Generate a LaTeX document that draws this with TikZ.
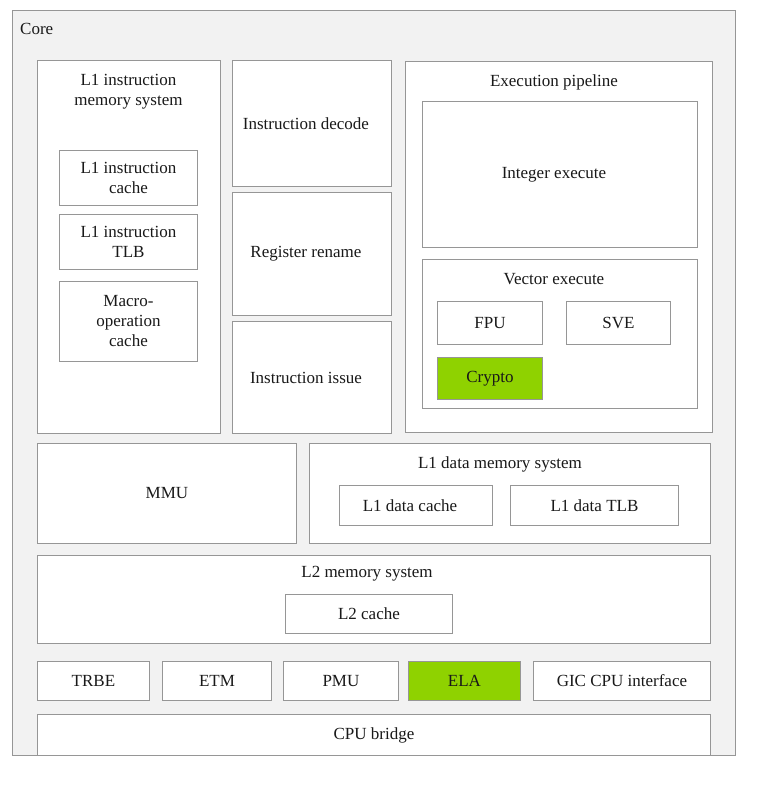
\documentclass[tikz,border=0pt]{standalone}
\usepackage{fontspec}
\setmainfont{Liberation Serif}
\usepackage{xcolor}
\usepackage{tikz}

\definecolor{coregray}{RGB}{242,242,242}
\definecolor{linegray}{RGB}{150,150,150}
\definecolor{elagreen}{RGB}{143,210,0}

\tikzset{
  blk/.style={draw=linegray, fill=white, line width=0.9pt, anchor=north west,
    inner sep=0pt, align=center, text=black!90,
    font=\fontsize{17}{20}\selectfont},
  grn/.style={blk, fill=elagreen},
  ttl/.style={inner sep=0pt, align=center, text=black!90,
    font=\fontsize{17}{20}\selectfont}
}
% texto un poco a la izquierda del centro
\def\iL{\hspace*{12pt}}

\begin{document}
\begin{tikzpicture}[x=1pt,y=-1pt]
\useasboundingbox (0,0) rectangle (758,785);

%% la caja grande: Core %%%%%%%%%%%%%%%%%%%%%%%
\node[blk, fill=coregray, minimum width=723pt, minimum height=745pt] (core) at (12,10) {};
\node[ttl, anchor=west] (corettl) at (20,29) {Core};

%% L1 instruction memory system %%%%%%%%%%%%%%%
\node[blk, minimum width=183pt, minimum height=373pt] (l1i) at (37,60) {};
\node[ttl] (l1ittl) at (128.5,92) {L1 instruction\\memory system};
\node[blk, minimum width=138pt, minimum height=55pt] (l1icache) at (59,150) {L1 instruction\\cache};
\node[blk, minimum width=138pt, minimum height=55pt] (l1itlb) at (59,214) {L1 instruction\\TLB};
\node[blk, minimum width=138pt, minimum height=80pt] (mopcache) at (59,281) {Macro-\\operation\\cache};

%% decode / rename / issue %%%%%%%%%%%%%%%%%%%%
\node[blk, minimum width=159pt, minimum height=126pt] (decode) at (232,60) {Instruction decode\iL};
\node[blk, minimum width=159pt, minimum height=123pt] (rename) at (232,192) {Register rename\iL};
\node[blk, minimum width=159pt, minimum height=112pt] (issue) at (232,321) {Instruction issue\iL};

%% Execution pipeline %%%%%%%%%%%%%%%%%%%%%%%%%
\node[blk, minimum width=307pt, minimum height=371pt] (exe) at (405,61) {};
\node[ttl] (exettl) at (554,82) {Execution pipeline};
\node[blk, minimum width=275pt, minimum height=146pt] (intexe) at (422,101) {Integer execute\iL};
\node[blk, minimum width=275pt, minimum height=149pt] (vecexe) at (422,259) {};
\node[ttl] (vecttl) at (554,279) {Vector execute};
\node[blk, minimum width=105pt, minimum height=43pt] (fpu) at (437,301) {FPU};
\node[blk, minimum width=104pt, minimum height=43pt] (sve) at (566,301) {SVE};
\node[grn, minimum width=105pt, minimum height=42pt] (crypto) at (437,357) {Crypto};

%% MMU y L1 data %%%%%%%%%%%%%%%%%%%%%%%%%%%%%%
\node[blk, minimum width=259pt, minimum height=100pt] (mmu) at (37,443) {MMU};
\node[blk, minimum width=401pt, minimum height=100pt] (l1d) at (309,443) {};
\node[ttl] (l1dttl) at (500,464) {L1 data memory system};
\node[blk, minimum width=153pt, minimum height=40pt] (l1dcache) at (339,485) {L1 data cache\iL};
\node[blk, minimum width=168pt, minimum height=40pt] (l1dtlb) at (510,485) {L1 data TLB};

%% L2 %%%%%%%%%%%%%%%%%%%%%%%%%%%%%%%%%%%%%%%%%
\node[blk, minimum width=673pt, minimum height=88pt] (l2) at (37,555) {};
\node[ttl] (l2ttl) at (367,574) {L2 memory system};
\node[blk, minimum width=167pt, minimum height=39pt] (l2cache) at (285,594) {L2 cache};

%% fila de abajo %%%%%%%%%%%%%%%%%%%%%%%%%%%%%%
\foreach \iN/\iX/\iW/\iT in {trbe/37/112/TRBE, etm/162/109/ETM, pmu/283/115/PMU, gic/533/177/GIC CPU interface}{
\node[blk, minimum width=\iW pt, minimum height=39pt] (\iN) at (\iX,661) {\iT};
}
\node[grn, minimum width=112pt, minimum height=39pt] (ela) at (408,661) {ELA};

\node[blk, minimum width=673pt, minimum height=41pt] (bridge) at (37,714) {CPU bridge};
%%%%%%%%%%%%%%%%%%%%%%%%%%%%%%%%%%%%%%%%%%%%%%%
\end{tikzpicture}
\end{document}
